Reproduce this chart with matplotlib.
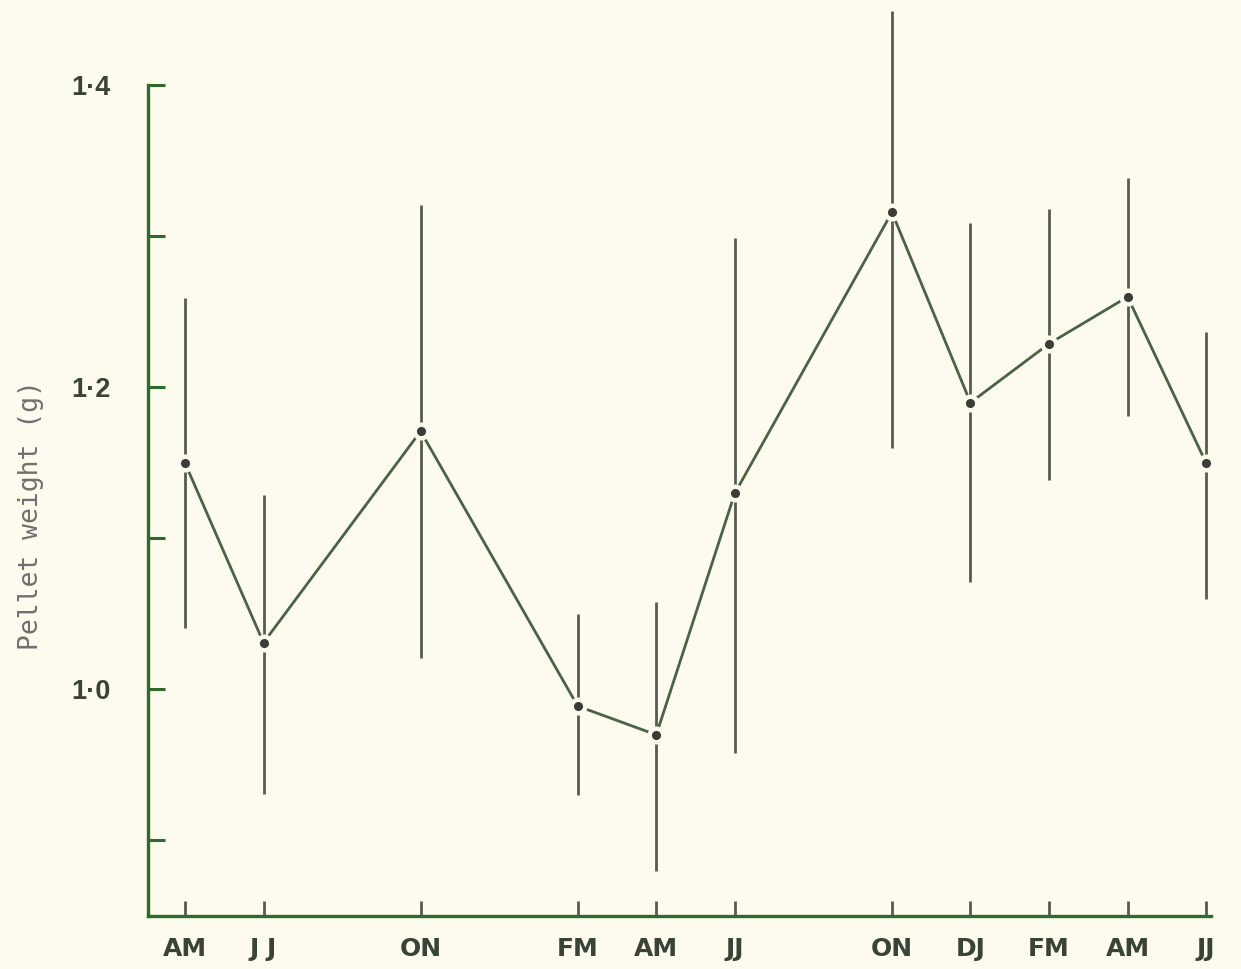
#!/usr/bin/env python3
"""Seasonal pellet weight with range bars, recreated from a scanned figure."""

import matplotlib
matplotlib.use("Agg")
import matplotlib.pyplot as plt

# bimonthly sampling slots (0 = AM of first year)
positions = [0, 1, 3, 5, 6, 7, 9, 10, 11, 12, 13]
period_labels = ["AM", "J J", "ON", "FM", "AM", "JJ", "ON", "DJ", "FM", "AM", "JJ"]
mean_weight = [1.150, 1.031, 1.171, 0.989, 0.970, 1.130, 1.316, 1.190, 1.229, 1.260, 1.150]
low_weight = [1.041, 0.931, 1.021, 0.930, 0.880, 0.958, 1.160, 1.071, 1.139, 1.181, 1.060]
high_weight = [1.259, 1.129, 1.321, 1.050, 1.058, 1.299, 1.449, 1.309, 1.318, 1.339, 1.237]

y_ticks = [0.9, 1.0, 1.1, 1.2, 1.3, 1.4]
y_ticklabels = ["", "1·0", "", "1·2", "", "1·4"]

BG = "#fcfbee"
AXIS = "#2f6a2a"
LINE = "#4a6344"
BAR = "#555c51"
DOT = "#3a3c38"
TEXT = "#3a4436"

fig = plt.figure(figsize=(12.41, 9.69), dpi=100, facecolor=BG)
ax = fig.add_axes([0.1193, 0.0547, 0.9757 - 0.1193, 0.9897 - 0.0547])
ax.set_facecolor(BG)

lower_err = [m - lo for m, lo in zip(mean_weight, low_weight)]
upper_err = [hi - m for m, hi in zip(mean_weight, high_weight)]
ax.errorbar(positions, mean_weight, yerr=[lower_err, upper_err], fmt="none",
            ecolor=BAR, elinewidth=2.0, capsize=0, zorder=2, clip_on=False)
ax.plot(positions, mean_weight, color=LINE, lw=2.0, zorder=3, clip_on=False)
ax.plot(positions, mean_weight, "o", ms=9.8, mfc=DOT, mec=BG, mew=3.2,
        zorder=4, clip_on=False)

ax.set_xlim(-0.47, 13.06)
ax.set_ylim(0.85, 1.45)

for side in ("top", "right"):
    ax.spines[side].set_visible(False)
ax.spines["left"].set_bounds(0.85, 1.4)
for side in ("left", "bottom"):
    ax.spines[side].set_color(AXIS)
    ax.spines[side].set_linewidth(2.4)

ax.set_yticks(y_ticks)
ax.set_yticklabels(y_ticklabels)
ax.set_xticks(positions)
ax.set_xticklabels(period_labels)

ax.tick_params(axis="y", direction="in", length=12, width=2.2, color=AXIS,
               pad=27, labelsize=19.5, labelcolor=TEXT)
ax.tick_params(axis="x", direction="in", length=11, width=2.0, color="#555a50",
               pad=15, labelsize=18, labelcolor=TEXT)
for lab in ax.get_yticklabels():
    lab.set_fontfamily("Liberation Sans")
    lab.set_fontweight("bold")
for lab in ax.get_xticklabels():
    lab.set_fontfamily("DejaVu Sans")
    lab.set_fontweight("bold")

fig.text(0.025, 0.468, "Pellet weight (g)", rotation=90, ha="center", va="center",
         fontsize=19, color="#707070", family="DejaVu Sans Mono")

fig.savefig("out.png", dpi=100, facecolor=BG)
plt.close(fig)
